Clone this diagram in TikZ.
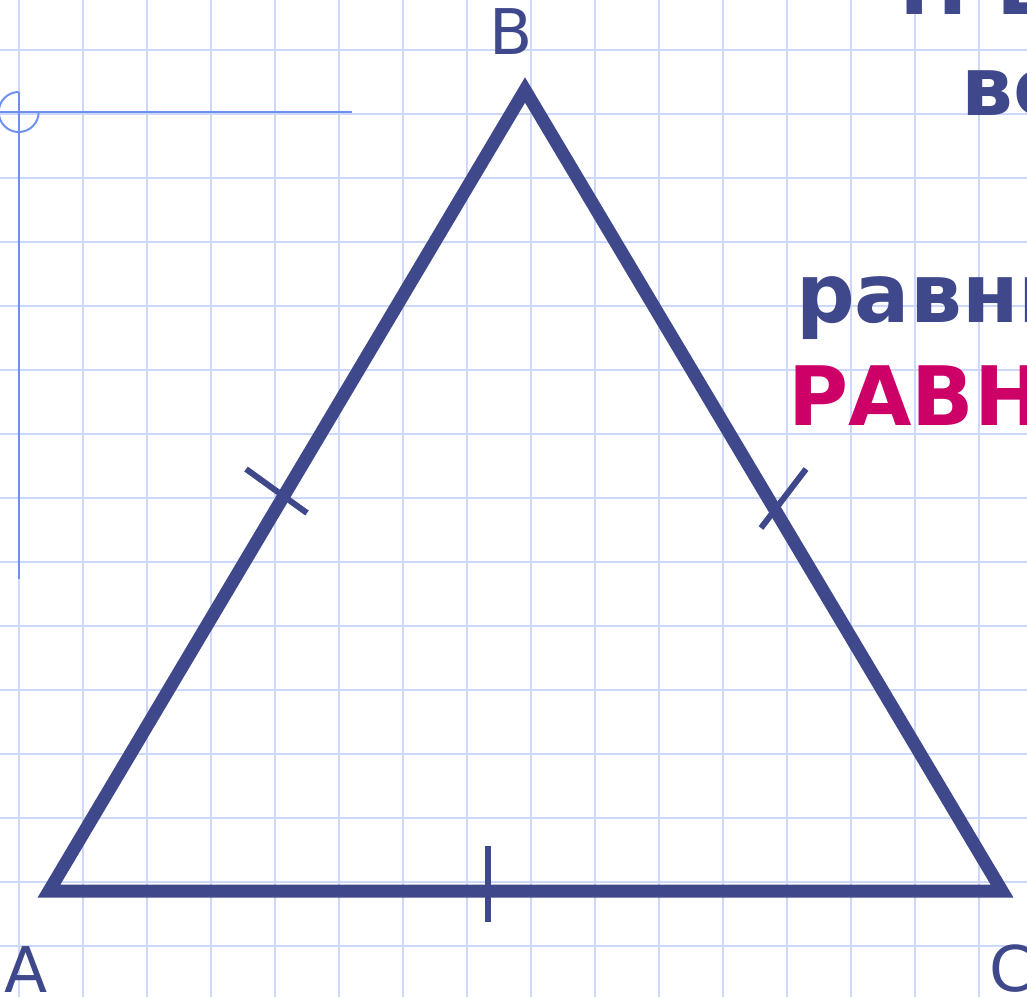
\documentclass[tikz,border=0pt]{standalone}
\usepackage{fontspec}
\setmainfont{DejaVu Sans}
\definecolor{gridc}{RGB}{204,216,250}
\definecolor{guidec}{RGB}{112,144,240}
\definecolor{triblue}{RGB}{64,72,140}
\definecolor{magc}{RGB}{204,0,102}
\tikzset{
  gridline/.style={draw=gridc, line width=2pt},
  guideline/.style={draw=guidec, line width=2pt},
  side/.style={draw=triblue, line width=13pt, line join=miter},
  tick/.style={draw=triblue, line width=6pt},
  vlabel/.style={text=triblue, inner sep=0pt, font=\fontsize{63}{70}\selectfont},
  boldtext/.style={inner sep=0pt, anchor=base west, font=\bfseries\fontsize{82}{95}\selectfont},
}
\begin{document}
\begin{tikzpicture}[x=1pt,y=-1pt]
\useasboundingbox (0,0) rectangle (1027,997);
\clip (0,0) rectangle (1027,997);
% grid
\foreach \k in {0,...,15} \draw[gridline] ({18.7+64*\k},0) -- ({18.7+64*\k},997);
\foreach \k in {0,...,14} \draw[gridline] (0,{50+64*\k}) -- (1027,{50+64*\k});
% guides
\coordinate (O) at (18.7,112);
\coordinate (Hend) at (352,112);
\coordinate (Vend) at (18.7,579);
\draw[guideline] (0,112) -- (Hend);
\draw[guideline] (18.7,92) -- (Vend);
\draw[guideline] (18.7,92) arc[start angle=-90, end angle=-360, radius=20];
% triangle
\coordinate (A) at (49,891);
\coordinate (B) at (525,90);
\coordinate (C) at (1002,891);
\draw[side] (A) -- (B) -- (C) -- cycle;
% ticks
\coordinate (t1a) at (246,469); \coordinate (t1b) at (307,513);
\coordinate (t2a) at (806,469); \coordinate (t2b) at (761,528);
\coordinate (t3a) at (488,846); \coordinate (t3b) at (488,922);
\draw[tick] (t1a) -- (t1b);
\draw[tick] (t2a) -- (t2b);
\draw[tick] (t3a) -- (t3b);
% labels
\node[vlabel, anchor=base] (lB) at (511,54) {B};
\node[vlabel, anchor=base] (lA) at (26,992) {A};
\node[vlabel, anchor=base west] (lC) at (989,991) {C};
% texts
\node[boldtext, text=triblue] (t1) at (899,14) {П Е};
\node[boldtext, text=triblue] (t2) at (961,115) {все};
\node[boldtext, text=triblue] (t3) at (796,322) {равны};
\node[boldtext, text=magc] (t4) at (788,425) {РАВНОСТОРОННИЙ};
\end{tikzpicture}
\end{document}
